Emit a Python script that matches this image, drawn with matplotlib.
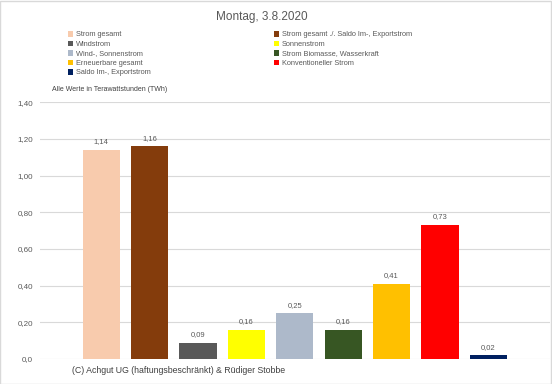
import matplotlib.pyplot as plt
from matplotlib.patches import Rectangle

plt.rcParams['font.family'] = ['Liberation Sans', 'DejaVu Sans']

labels = ['Strom gesamt', 'Strom gesamt ./. Saldo Im-, Exportstrom', 'Windstrom',
          'Sonnenstrom', 'Wind-, Sonnenstrom', 'Strom Biomasse, Wasserkraft',
          'Erneuerbare gesamt', 'Konventioneller Strom', 'Saldo Im-, Exportstrom']
values = [1.14, 1.16, 0.09, 0.16, 0.25, 0.16, 0.41, 0.73, 0.02]
colors = ['#F8CBAD', '#843C0C', '#595959', '#FFFF00', '#ADB9CA',
          '#375623', '#FFC000', '#FF0000', '#002060']
yticks = [0, 0.2, 0.4, 0.6, 0.8, 1.0, 1.2, 1.4]
ytick_labels = ['0,0', '0,20', '0,40', '0,60', '0,80', '1,00', '1,20', '1,40']

grey = '#595959'
W, H = 552, 384
fig = plt.figure(figsize=(5.52, 3.84), dpi=100)
ax = fig.add_axes([0.072, 0.065, 0.924, 0.669])

x = list(range(len(values)))
ax.bar(x, values, width=0.77, color=colors, zorder=3)
for xi, v in zip(x, values):
    ax.text(xi, v + 0.025, f'{v:.2f}'.replace('.', ','), ha='center', va='bottom',
            fontsize=5.5, color=grey)

ax.set_xlim(-1.27, 9.27)
ax.set_ylim(0, 1.4)
ax.set_yticks(yticks)
ax.set_yticklabels(ytick_labels, fontsize=5.8, color=grey)
ax.set_xticks([])
ax.tick_params(axis='y', length=0, pad=5)
ax.grid(axis='y', color='#D9D9D9', linewidth=0.8, zorder=0)
for s in ax.spines.values():
    s.set_visible(False)

fig.text(0.475, 0.955, 'Montag, 3.8.2020', ha='center', va='center', fontsize=8.5, color=grey)
fig.text(0.094, 0.768, 'Alle Werte in Terawattstunden (TWh)', ha='left', va='center',
         fontsize=5, color='#404040')
fig.text(0.13, 0.036, '(C) Achgut UG (haftungsbeschränkt) & Rüdiger Stobbe', ha='left',
         va='center', fontsize=6.3, color='#404040')

# legend, row by row across two columns
for i, (lab, c) in enumerate(zip(labels, colors)):
    col, row = i % 2, i // 2
    lx = 68 if col == 0 else 274
    ly = 35 + row * 9.5
    fig.patches.append(Rectangle((lx / W, 1 - (ly + 1.5) / H), 5 / W, 5 / H,
                                 transform=fig.transFigure, facecolor=c, edgecolor='none'))
    fig.text((lx + 8) / W, 1 - ly / H, lab, ha='left', va='center', fontsize=5.3, color=grey)

fig.patches.append(Rectangle((0, 0), 0.998, 0.998, transform=fig.transFigure,
                             fill=False, edgecolor='#D9D9D9', linewidth=1))

fig.savefig('out.png', dpi=100)
